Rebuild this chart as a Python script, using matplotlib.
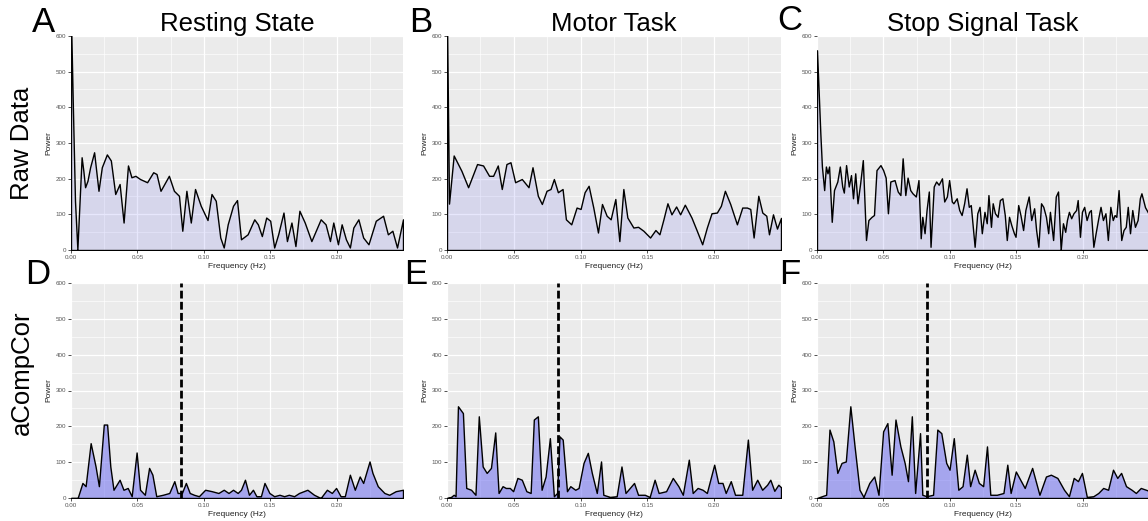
import numpy as np
import matplotlib
matplotlib.use("Agg")
from matplotlib import pyplot as plt
from matplotlib.ticker import MultipleLocator

plt.rcParams['font.family'] = ['Liberation Sans', 'DejaVu Sans']

# --- data (frequency in Hz, power) ---
rest_raw_f = [0.0, 0.0013, 0.003, 0.0048, 0.006, 0.008, 0.0093, 0.0106, 0.0124, 0.0144, 0.0174,
              0.0207, 0.0232, 0.027, 0.030, 0.0333, 0.0366, 0.0396, 0.0429, 0.0455, 0.0485, 0.052,
              0.0573, 0.0619, 0.0644, 0.0674, 0.071, 0.0737, 0.0775, 0.0813, 0.0838, 0.0869, 0.0902,
              0.0934, 0.0977, 0.1028, 0.1058, 0.109, 0.1124, 0.115, 0.118, 0.122, 0.125, 0.128, 0.133,
              0.138, 0.1407, 0.1437, 0.147, 0.150, 0.153, 0.156, 0.160, 0.1626, 0.166, 0.169, 0.172,
              0.176, 0.181, 0.188, 0.1917, 0.195, 0.1975, 0.201, 0.2038, 0.207, 0.21, 0.2126, 0.2164,
              0.22, 0.224, 0.2295, 0.235, 0.2386, 0.242, 0.2455, 0.25]
rest_raw_p = [650, 420, 138, 2, 100, 260, 222, 176, 194, 232, 274,
              166, 232, 268, 251, 157, 185, 77, 237, 204, 208, 199,
              190, 218, 213, 166, 190, 208, 166, 152, 54, 166, 77,
              171, 124, 84, 157, 138, 35, 7, 72, 124, 140, 30, 44,
              86, 72, 39, 91, 82, 7, 44, 105, 25, 77, 11, 110,
              77, 25, 86, 72, 25, 77, 16, 72, 30, 7, 63, 86,
              35, 16, 82, 96, 44, 54, 7, 86]

motor_raw_f = [0.0, 0.0015, 0.005, 0.0108, 0.0158, 0.0225, 0.027, 0.0315, 0.0345, 0.038, 0.041,
               0.0445, 0.0475, 0.051, 0.056, 0.061, 0.064, 0.068, 0.071, 0.0745, 0.0775, 0.080,
               0.083, 0.0865, 0.089, 0.093, 0.097, 0.100, 0.103, 0.106, 0.1095, 0.113, 0.116, 0.1195,
               0.1225, 0.126, 0.129, 0.132, 0.135, 0.1395, 0.143, 0.147, 0.152, 0.156, 0.159, 0.162,
               0.165, 0.168, 0.1715, 0.1745, 0.178, 0.183, 0.187, 0.191, 0.1945, 0.198, 0.202, 0.205,
               0.208, 0.212, 0.217, 0.221, 0.2245, 0.227, 0.2295, 0.233, 0.236, 0.239, 0.241, 0.244,
               0.247, 0.25]
motor_raw_p = [650, 130, 265, 222, 176, 241, 237, 208, 208, 237, 171,
               241, 246, 190, 199, 176, 232, 152, 129, 166, 171, 199,
               162, 171, 86, 72, 119, 115, 162, 180, 119, 49, 129, 96,
               86, 143, 25, 171, 91, 63, 65, 54, 35, 56, 44, 86,
               131, 100, 122, 100, 127, 91, 54, 16, 63, 103, 105, 124,
               166, 129, 72, 119, 119, 115, 35, 152, 105, 96, 44, 100,
               60, 90]

stop_raw_f = [0.0, 0.0025, 0.0037, 0.0054, 0.0067, 0.0079, 0.0091, 0.0111, 0.0128, 0.0153, 0.0172,
              0.0190, 0.0202, 0.0219, 0.0239, 0.0256, 0.0271, 0.0288, 0.0305, 0.0325, 0.0345, 0.0369,
              0.0387, 0.0411, 0.0429, 0.0448, 0.0478, 0.0498, 0.0517, 0.0534, 0.0552, 0.0584, 0.0608,
              0.0628, 0.0645, 0.0665, 0.0682, 0.0702, 0.0719, 0.0744, 0.0764, 0.0781, 0.0793, 0.0810,
              0.0825, 0.0842, 0.0855, 0.0879, 0.0897, 0.0916, 0.0941, 0.0958, 0.0978, 0.0995, 0.1015,
              0.1027, 0.1052, 0.1071, 0.1089, 0.1108, 0.1126, 0.1143, 0.1158, 0.1187, 0.1207, 0.1224,
              0.1241, 0.1261, 0.1278, 0.1291, 0.1310, 0.1323, 0.1340, 0.1360, 0.1377, 0.1396, 0.1414,
              0.1429, 0.1446, 0.1463, 0.1483, 0.1495, 0.1515, 0.1532, 0.1552, 0.1569, 0.1594, 0.1613,
              0.1635, 0.1650, 0.1667, 0.1687, 0.1704, 0.1724, 0.1741, 0.1754, 0.1778, 0.1798, 0.1815,
              0.1835, 0.1852, 0.1869, 0.1882, 0.1897, 0.1914, 0.1931, 0.1951, 0.1963, 0.1980, 0.1995,
              0.2012, 0.2030, 0.2049, 0.2062, 0.2081, 0.2098, 0.2118, 0.2135, 0.2153, 0.2172, 0.2190,
              0.2209, 0.2227, 0.2241, 0.2254, 0.2271, 0.2291, 0.2308, 0.2325, 0.2340, 0.2357, 0.2374,
              0.2394, 0.2414, 0.2431, 0.2443, 0.247, 0.25]
stop_raw_p = [560, 328, 234, 168, 234, 215, 234, 79, 168, 192, 234,
              178, 161, 238, 178, 210, 145, 215, 131, 187, 252, 28,
              84, 93, 98, 224, 238, 224, 203, 103, 192, 196, 164,
              154, 257, 154, 203, 168, 159, 150, 196, 33, 93, 47,
              112, 164, 9, 178, 192, 183, 201, 136, 150, 196, 136,
              131, 145, 112, 98, 131, 173, 121, 126, 9, 103, 121,
              47, 107, 75, 154, 65, 131, 103, 93, 140, 145, 98,
              28, 93, 70, 47, 37, 126, 98, 56, 112, 150, 84,
              117, 56, 9, 131, 121, 93, 47, 107, 28, 150, 164,
              0, 75, 51, 84, 107, 89, 103, 112, 140, 37, 107,
              121, 84, 107, 112, 9, 47, 89, 121, 84, 103, 28,
              121, 84, 98, 93, 168, 28, 56, 65, 121, 47, 112,
              65, 84, 145, 159, 120, 100]

rest_acc_f = [0.0, 0.005, 0.0086, 0.011, 0.0148, 0.0185, 0.021, 0.0247, 0.0272, 0.0296, 0.032,
              0.0366, 0.0395, 0.0427, 0.0457, 0.0494, 0.052, 0.0556, 0.0588, 0.0613, 0.0642, 0.0692,
              0.074, 0.0778, 0.0803, 0.0835, 0.0865, 0.0894, 0.0926, 0.0963, 0.101, 0.106, 0.111,
              0.115, 0.1186, 0.122, 0.1255, 0.128, 0.131, 0.134, 0.137, 0.1396, 0.143, 0.1457, 0.1494,
              0.153, 0.157, 0.1605, 0.164, 0.168, 0.1717, 0.178, 0.183, 0.188, 0.1927, 0.1964, 0.1996,
              0.203, 0.2062, 0.21, 0.2137, 0.2174, 0.22, 0.2248, 0.227, 0.231, 0.236, 0.2396, 0.2445,
              0.25]
rest_acc_p = [0, 0, 42, 33, 153, 88, 33, 205, 205, 88, 23,
              51, 23, 28, 5, 127, 23, 9, 84, 65, 5, 9,
              14, 47, 14, 14, 42, 14, 9, 5, 23, 19, 14,
              23, 14, 23, 14, 23, 51, 9, 23, 5, 5, 42, 14,
              5, 9, 5, 9, 5, 14, 23, 9, 0, 23, 14, 28,
              5, 5, 65, 23, 60, 42, 102, 70, 33, 14, 9, 19,
              23]

motor_acc_f = [0.0, 0.003, 0.005, 0.0064, 0.0082, 0.0119, 0.0144, 0.018, 0.0213, 0.0238, 0.0267,
               0.0297, 0.0329, 0.0361, 0.0386, 0.0416, 0.044, 0.047, 0.0495, 0.0527, 0.056, 0.0594,
               0.0626, 0.065, 0.068, 0.0708, 0.0738, 0.077, 0.080, 0.0824, 0.0842, 0.0866, 0.0898,
               0.0923, 0.096, 0.0985, 0.1022, 0.1054, 0.1084, 0.1121, 0.1153, 0.117, 0.122, 0.127,
               0.1306, 0.1336, 0.140, 0.143, 0.148, 0.1517, 0.1554, 0.1584, 0.164, 0.169, 0.1732,
               0.1765, 0.181, 0.1839, 0.1876, 0.1913, 0.1945, 0.200, 0.203, 0.2062, 0.2086, 0.2124,
               0.2156, 0.221, 0.2252, 0.2284, 0.2322, 0.2359, 0.2396, 0.242, 0.245, 0.248, 0.25]
motor_acc_p = [0, 3, 9, 5, 256, 237, 28, 23, 9, 228, 88,
               70, 84, 183, 14, 33, 28, 28, 19, 56, 51, 19,
               14, 219, 228, 23, 60, 167, 5, 14, 172, 163, 19,
               33, 23, 28, 98, 126, 70, 14, 102, 9, 3, 5,
               88, 14, 42, 9, 9, 3, 51, 14, 19, 56, 33,
               9, 107, 14, 28, 23, 14, 93, 42, 42, 14, 47,
               9, 9, 163, 23, 51, 23, 37, 51, 20, 37, 30]

stop_acc_f = [0.0, 0.0037, 0.0069, 0.0094, 0.0123, 0.0153, 0.0185, 0.0217, 0.0251, 0.0283, 0.032,
              0.035, 0.0394, 0.0431, 0.0463, 0.0498, 0.053, 0.0562, 0.0591, 0.0628, 0.066, 0.0685,
              0.0714, 0.0739, 0.0776, 0.0793, 0.0825, 0.0874, 0.0906, 0.0936, 0.0973, 0.0998, 0.103,
              0.1064, 0.1096, 0.1128, 0.1153, 0.1187, 0.1219, 0.1251, 0.128, 0.1305, 0.1354, 0.1404,
              0.1433, 0.1458, 0.1497, 0.1564, 0.162, 0.1675, 0.1724, 0.1761, 0.181, 0.186, 0.1897,
              0.1933, 0.1965, 0.1995, 0.2032, 0.2081, 0.2118, 0.2155, 0.2192, 0.2229, 0.2261, 0.229,
              0.2327, 0.2369, 0.2401, 0.2438, 0.25]
stop_acc_p = [0, 5, 9, 191, 158, 70, 98, 102, 256, 144, 23,
              3, 42, 60, 9, 186, 209, 65, 219, 144, 98, 47,
              228, 14, 181, 9, 5, 9, 191, 181, 98, 79, 167,
              23, 33, 121, 33, 79, 42, 33, 144, 9, 9, 14,
              93, 14, 74, 28, 84, 9, 60, 65, 56, 23, 5,
              56, 47, 70, 3, 5, 14, 28, 23, 79, 56, 70,
              33, 23, 14, 28, 20]

cutoff_hz = 0.083
column_titles = ["Resting State", "Motor Task", "Stop Signal Task"]
row_titles = ["Raw Data", "aCompCor"]
panel_letters = ["A", "B", "C", "D", "E", "F"]

raw_rows = [(rest_raw_f, rest_raw_p), (motor_raw_f, motor_raw_p), (stop_raw_f, stop_raw_p)]
acc_rows = [(rest_acc_f, rest_acc_p), (motor_acc_f, motor_acc_p), (stop_acc_f, stop_acc_p)]

W, H = 1148, 521
fig = plt.figure(figsize=(W / 100, H / 100), dpi=100)

# pixel boxes: (left, right) per column, (top, bottom) per row
col_px = [(71, 403), (447, 781), (817, 1149)]
row_px = [(36, 250), (283, 498)]


def make_ax(ci, ri):
    l, r = col_px[ci]
    t, b = row_px[ri]
    return fig.add_axes([l / W, 1 - b / H, (r - l) / W, (b - t) / H])


def style_ax(ax):
    ax.set_facecolor('#EBEBEB')
    for s in ax.spines.values():
        s.set_visible(False)
    ax.set_xlim(0, 0.25)
    ax.set_ylim(0, 600)
    ax.xaxis.set_minor_locator(MultipleLocator(0.025))
    ax.yaxis.set_major_locator(MultipleLocator(100))
    ax.yaxis.set_minor_locator(MultipleLocator(50))
    ax.set_xticks([0, 0.05, 0.10, 0.15, 0.20])
    ax.set_xticklabels(['0.00', '0.05', '0.10', '0.15', '0.20'])
    ax.grid(which='major', color='white', lw=0.9)
    ax.grid(which='minor', color='white', lw=0.45)
    ax.set_axisbelow(True)
    ax.tick_params(which='major', length=2, width=0.6, color='#333333',
                   labelsize=4.5, labelcolor='#555555', pad=1.5)
    ax.tick_params(which='minor', length=0)
    ax.set_xlabel('Frequency (Hz)', fontsize=6, labelpad=2, color='#222222')
    ax.set_ylabel('Power', fontsize=6, labelpad=2, color='#222222')


for ci in range(3):
    # raw data row
    ax = make_ax(ci, 0)
    style_ax(ax)
    f, p = raw_rows[ci]
    ax.fill_between(f, p, 0, facecolor=(0.42, 0.42, 0.94, 0.16), edgecolor='black', lw=1.0)

    # aCompCor row
    ax2 = make_ax(ci, 1)
    style_ax(ax2)
    f, p = acc_rows[ci]
    ax2.fill_between(f, p, 0, facecolor=(0.40, 0.40, 0.94, 0.52), edgecolor='black', lw=1.0)
    ax2.axvline(cutoff_hz, color='black', lw=2, ls=(0, (2.8, 1.2)))

    l, r = col_px[ci]
    fig.text((l + r) / 2 / W, 1 - 24 / H, column_titles[ci], ha='center', va='center', fontsize=18.5)

# panel letters
letter_xy = [(55, 22), (432, 22), (802, 21), (50, 274), (427, 274), (800, 274)]
for letter, (x, y) in zip(panel_letters, letter_xy):
    fig.text(x / W, 1 - y / H, letter, ha='right', va='center', fontsize=25)

# row labels
fig.text(22 / W, 1 - 143 / H, row_titles[0], rotation=90, ha='center', va='center', fontsize=18.5)
fig.text(22 / W, 1 - 373 / H, row_titles[1], rotation=90, ha='center', va='center', fontsize=18.5)

fig.savefig('out.png', dpi=100)
